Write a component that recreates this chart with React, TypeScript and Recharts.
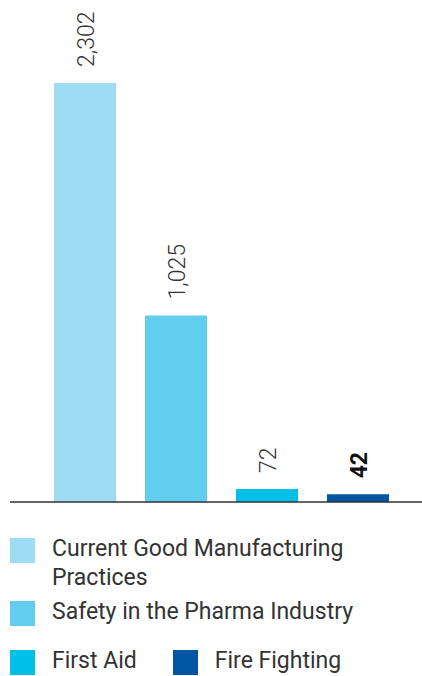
import { BarChart, Bar, Cell, XAxis, YAxis, LabelList } from 'recharts'

const categories = ['Current Good Manufacturing Practices', 'Safety in the Pharma Industry', 'First Aid', 'Fire Fighting']
const participants = [2302, 1025, 72, 42]
const valueLabels = ['2,302', '1,025', '72', '42']
const colors = ['#9EDCF4', '#62CDEE', '#00BFE9', '#0056A2']

const data = categories.map((name, i) => ({ name, value: participants[i], label: valueLabels[i] }))

const FONT = 'Roboto, "Noto Sans", sans-serif'

function RotatedLabel(props: any) {
  const { x, y, width, index } = props
  const cx = x + width / 2
  const bold = index === 3
  return (
    <text
      transform={`translate(${cx + 8.5}, ${y - 16}) rotate(-90)`}
      fontSize={23}
      fontFamily={FONT}
      fontWeight={bold ? 700 : 300}
      fill={bold ? '#111' : '#333'}
      textAnchor="start"
    >
      {valueLabels[index]}
    </text>
  )
}

const legendRows = [
  { top: 538, items: [0] },
  { top: 601, items: [1] },
  { top: 650, items: [2, 3] },
]

export default function App() {
  return (
    <div style={{ position: 'absolute', left: 0, top: 0, width: 422, height: 676, background: '#fff', fontFamily: FONT }}>
      <BarChart
        width={422}
        height={504}
        data={data}
        margin={{ top: 83, right: 0, bottom: 0, left: 10 }}
        barCategoryGap={14.5}
      >
        <XAxis
          dataKey="name"
          tick={false}
          tickLine={false}
          height={2}
          padding={{ left: 29.5, right: 18.5 }}
          axisLine={{ stroke: '#333', strokeWidth: 1.4 }}
        />
        <YAxis hide domain={[0, 'dataMax']} />
        <Bar dataKey="value" isAnimationActive={false}>
          {data.map((d, i) => (
            <Cell key={d.name} fill={colors[i]} />
          ))}
          <LabelList dataKey="label" content={<RotatedLabel />} />
        </Bar>
      </BarChart>
      {legendRows.map((row) => (
        <div key={row.top} style={{ position: 'absolute', top: row.top, left: 10, display: 'flex' }}>
          {row.items.map((i, k) => (
            <div key={i} style={{ display: 'flex', alignItems: 'flex-start', marginLeft: k > 0 ? 36 : 0 }}>
              <div style={{ width: 25, height: 25, background: colors[i], flexShrink: 0 }} />
              <div
                style={{
                  marginLeft: 17,
                  marginTop: -4,
                  fontSize: 23,
                  lineHeight: '29px',
                  color: '#333',
                  width: i === 0 ? 340 : undefined,
                }}
              >
                {i === 0 ? (
                  <>
                    Current Good Manufacturing
                    <br />
                    Practices
                  </>
                ) : (
                  categories[i]
                )}
              </div>
            </div>
          ))}
        </div>
      ))}
    </div>
  )
}
